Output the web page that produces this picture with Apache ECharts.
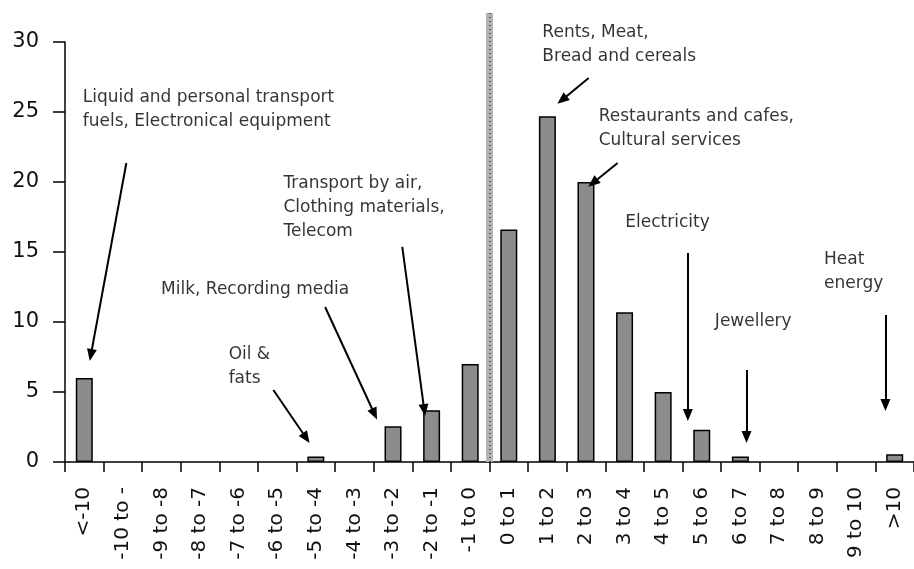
<!DOCTYPE html>
<html>
<head>
<meta charset="utf-8">
<title>Distribution of price changes</title>
<script src="https://cdn.jsdelivr.net/npm/echarts@6/dist/echarts.min.js"></script>
<style>
  html, body { margin: 0; padding: 0; background: #fff; }
  #chart { width: 914px; height: 569px; }
</style>
</head>
<body>
<div id="chart"></div>
<script>
  // categories (price change ranges) and share values
  var categories = ["<-10", "-10 to -", "-9 to -8", "-8 to -7", "-7 to -6", "-6 to -5",
    "-5 to -4", "-4 to -3", "-3 to -2", "-2 to -1", "-1 to 0", "0 to 1", "1 to 2",
    "2 to 3", "3 to 4", "4 to 5", "5 to 6", "6 to 7", "7 to 8", "8 to 9", "9 to 10", ">10"];
  var values = [6.0, 0, 0, 0, 0, 0, 0.4, 0, 2.55, 3.7, 7.0, 16.6, 24.7,
    20.0, 10.7, 5.0, 2.3, 0.4, 0, 0, 0, 0.55];
  var yTicks = [0, 30, 5]; // min, max, step

  // annotations: text, anchor (category units, value units), arrow from/to
  var noteTexts = [
    "Liquid and personal transport\nfuels, Electronical equipment",
    "Milk, Recording media",
    "Oil &\nfats",
    "Transport by air,\nClothing materials,\nTelecom",
    "Rents, Meat,\nBread and cereals",
    "Restaurants and cafes,\nCultural services",
    "Electricity",
    "Jewellery",
    "Heat\nenergy"
  ];
  var noteAt = [[0.46, 25.2], [2.49, 12.29], [4.24, 6.82], [5.66, 18.2], [12.37, 29.8],
    [13.83, 23.79], [14.52, 17.07], [16.84, 10.0], [19.67, 13.6]];
  var arrowFrom = [[1.59, 21.36], [6.74, 11.07], [5.40, 5.14], [8.74, 15.36], [13.57, 27.43],
    [14.32, 21.36], [16.14, 14.93], [17.66, 6.57], [21.26, 10.5]];
  var arrowTo = [[0.67, 7.64], [8.02, 3.43], [6.25, 1.71], [9.31, 3.71], [12.88, 25.86],
    [13.68, 19.93], [16.14, 3.36], [17.66, 1.79], [21.26, 4.07]];
  var splitAt = 11; // boundary between "-1 to 0" and "0 to 1"

  var font = "DejaVu Sans";
  var chart = echarts.init(document.getElementById("chart"));

  chart.setOption({
    backgroundColor: "#fff",
    animation: false,
    grid: [
      {left: 65, right: -7, top: 42, bottom: 107},
      {left: 65, right: -7, top: 13, bottom: 107}
    ],
    xAxis: [
      {
        type: "category",
        data: categories,
        gridIndex: 0,
        axisLine: {lineStyle: {color: "#000", width: 1.5}},
        axisTick: {show: true, length: 10, lineStyle: {color: "#000", width: 1.5}},
        axisLabel: {
          rotate: 90,
          interval: 0,
          margin: 25,
          color: "#111",
          fontFamily: font,
          fontSize: 20
        }
      },
      {type: "value", gridIndex: 0, min: 0, max: 22, show: false},
      {type: "value", gridIndex: 1, min: 0, max: 22, show: false}
    ],
    yAxis: [
      {
        type: "value",
        gridIndex: 0,
        min: yTicks[0],
        max: yTicks[1],
        interval: yTicks[2],
        splitLine: {show: false},
        axisLine: {show: true, lineStyle: {color: "#000", width: 1.5}},
        axisTick: {show: true, length: 12, lineStyle: {color: "#000", width: 1.5}},
        axisLabel: {margin: 26, color: "#111", fontFamily: font, fontSize: 21}
      },
      {type: "value", gridIndex: 1, min: 0, max: 1, show: false}
    ],
    series: [
      {
        type: "bar",
        xAxisIndex: 0,
        yAxisIndex: 0,
        // empty classes get no bar outline
        data: values.map(function (v) { return v === 0 ? "-" : v; }),
        barWidth: 17,
        itemStyle: {color: "#8c8c8c", borderColor: "#000", borderWidth: 1.5},
        z: 3
      },
      {
        // hatched divider between negative and positive changes
        type: "line",
        xAxisIndex: 2,
        yAxisIndex: 1,
        data: [],
        markLine: {
          silent: true,
          symbol: "none",
          label: {show: false},
          data: [
            {xAxis: splitAt, lineStyle: {color: "#b4b4b4", width: 7, type: "solid", opacity: 1}},
            {xAxis: splitAt, lineStyle: {color: "#555", width: 2, type: [1, 3], opacity: 1}}
          ]
        },
        z: 1
      },
      {
        // annotation texts and arrows
        type: "scatter",
        xAxisIndex: 1,
        yAxisIndex: 0,
        symbolSize: 0,
        data: noteTexts.map(function (t, i) {
          return {value: noteAt[i], name: t};
        }),
        label: {
          show: true,
          position: "right",
          distance: 0,
          formatter: "{b}",
          color: "#000",
          fontFamily: font,
          fontSize: 17,
          lineHeight: 24,
          align: "left"
        },
        markLine: {
          silent: true,
          symbol: ["none", "triangle"],
          symbolSize: [10, 12],
          label: {show: false},
          lineStyle: {color: "#000", width: 2, type: "solid", opacity: 1},
          data: arrowFrom.map(function (p, i) {
            return [{coord: p}, {coord: arrowTo[i]}];
          })
        },
        z: 4
      }
    ]
  });
</script>
</body>
</html>
